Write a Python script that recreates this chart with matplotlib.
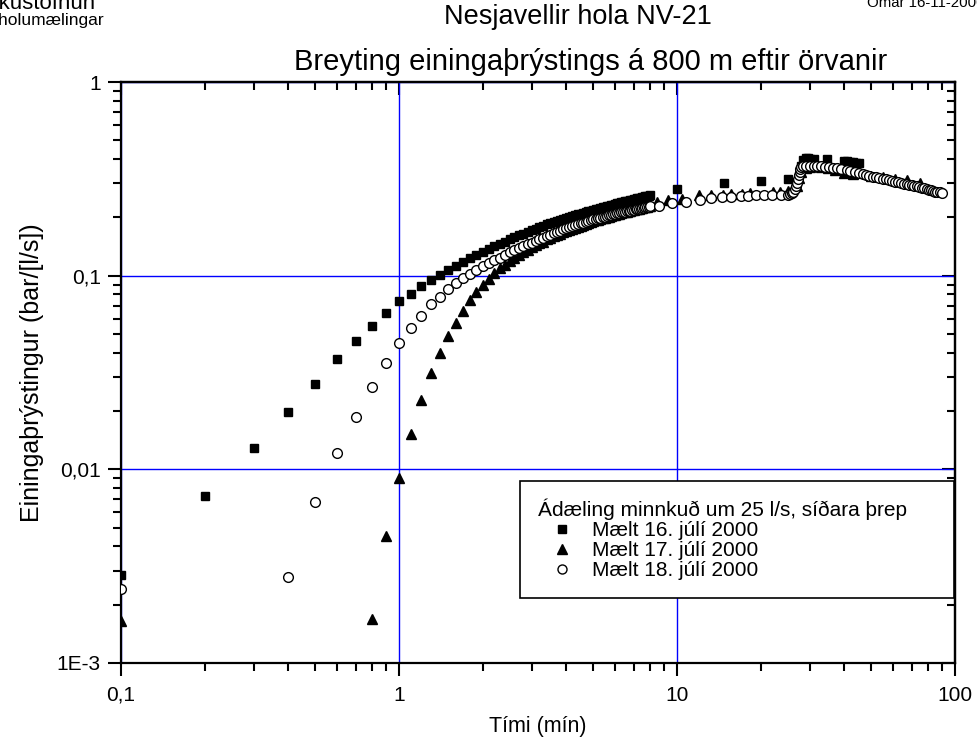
import matplotlib
matplotlib.use("Agg")
import matplotlib.pyplot as plt
from matplotlib.ticker import FixedLocator, LogLocator, NullFormatter, FixedFormatter
from matplotlib.lines import Line2D

plt.rcParams['font.family'] = ['Liberation Sans', 'DejaVu Sans']

# time grid of the fast readings (min)
t_fast = [0.1, 0.2, 0.3, 0.4, 0.5, 0.6, 0.7, 0.8, 0.9, 1.0,
          1.1, 1.2, 1.3, 1.4, 1.5, 1.6, 1.7, 1.8, 1.9, 2.0,
          2.1, 2.2, 2.3, 2.4, 2.5, 2.6, 2.7, 2.8, 2.9, 3.0,
          3.1, 3.2, 3.3, 3.4, 3.5, 3.6, 3.7, 3.8, 3.9, 4.0,
          4.1, 4.2, 4.3, 4.4, 4.5, 4.6, 4.7, 4.8, 4.9, 5.0,
          5.1, 5.2, 5.3, 5.4, 5.5, 5.6, 5.7, 5.8, 5.9, 6.0,
          6.1, 6.2, 6.3, 6.4, 6.5, 6.6, 6.7, 6.8, 6.9, 7.0,
          7.1, 7.2, 7.3, 7.4, 7.5, 7.6, 7.7, 7.8, 7.9, 8.0]

# Mælt 16. júlí 2000 (squares), 0.1 - 8.0 min
p16_fast = [.00285, .0073, .0129, .0198, .0276, .0372, .0459, .055, .064, .074,
            .0805, .0885, .095, .101, .107, .112, .118, .123, .128, .133,
            .138, .142, .146, .150, .154, .158, .162, .165, .169, .172,
            .175, .178, .181, .184, .187, .189, .192, .194, .197, .199,
            .201, .203, .205, .207, .209, .211, .213, .215, .217, .219,
            .221, .222, .224, .226, .227, .229, .230, .232, .233, .235,
            .236, .238, .239, .240, .242, .243, .244, .246, .247, .248,
            .249, .251, .252, .253, .254, .255, .257, .258, .259, .261]
t16_late = [10.0, 14.7, 20.0, 25.0, 27.6, 28.0, 28.5, 29.0, 29.5, 30.0,
            31.0, 34.5, 40.0, 41.0, 42.0, 43.0, 44.0, 45.0]
p16_late = [.280, .300, .310, .315, .340, .370, .395, .405, .405, .400,
            .400, .398, .390, .390, .388, .386, .384, .380]

# Mælt 17. júlí 2000 (triangles): 0.1 min, then 0.8 - 8.0 min
p17_first = .00164
p17_fast = [.00168, .00453, .009, .0152, .0228, .0313, .0397, .049, .057, .066,
            .0745, .082, .089, .096, .103, .109, .114, .119, .124, .128,
            .132, .136, .140, .144, .147, .150, .154, .157, .160, .163,
            .165, .168, .170, .173, .175, .177, .179, .181, .183, .185,
            .187, .189, .191, .193, .194, .196, .198, .199, .201, .202,
            .204, .205, .206, .208, .209, .210, .212, .213, .214, .215,
            .216, .218, .219, .220, .221, .222, .223, .224, .225, .226,
            .227, .228, .229]
t17_late = [8.5, 9.3, 10.4, 12.0, 13.3, 14.6, 15.7, 17.1, 18.3, 22.2,
            23.5, 25.0, 27.0, 27.5, 28.0, 29.0, 30.0, 33.0, 35.0, 37.0,
            40.0, 43.0, 50.0, 55.0, 61.0, 67.0, 75.0]
p17_late = [.240, .245, .250, .260, .260, .262, .263, .265, .266, .270,
            .272, .275, .290, .320, .345, .360, .365, .362, .358, .350,
            .340, .335, .328, .322, .315, .312, .300]

# Mælt 18. júlí 2000 (open circles): 0.1 min, then 0.4 - 8.0 min
p18_first = .0024
p18_fast = [.00279, .0068, .0121, .0186, .0266, .0356, .0448, .0535, .0621, .0714,
            .078, .085, .0914, .0977, .102, .107, .112, .116, .120, .124,
            .128, .132, .136, .139, .142, .145, .148, .151, .154, .157,
            .160, .163, .166, .169, .171, .174, .176, .178, .180, .182,
            .184, .186, .188, .190, .192, .193, .195, .196, .198, .199,
            .201, .202, .203, .205, .206, .207, .208, .210, .211, .212,
            .213, .214, .215, .216, .217, .218, .219, .220, .220, .221,
            .222, .223, .224, .225, .226, .227, .228]
t18_late = [8.6, 9.6, 10.8, 12.1, 13.3, 14.5, 15.7, 17.0, 18.0, 19.2,
            20.5, 21.9, 23.7, 25.0, 25.5, 26.0, 26.2, 26.5, 26.8, 27.0,
            27.2, 27.4, 27.6, 27.8, 28.0, 28.5, 29.0, 30.0, 31.0, 32.0,
            33.0, 34.0, 35.3, 36.5, 37.7, 39.0, 40.8, 42.0, 43.5, 45.0,
            46.5, 47.8, 49.0, 50.5, 52.0, 53.5, 55.0, 56.5, 58.0, 59.5,
            61.0, 62.5, 64.0, 65.5, 67.0, 68.5, 70.0, 71.5, 73.0, 74.5,
            76.0, 77.5, 79.0, 80.5, 82.0, 83.5, 85.0, 86.5, 88.0, 89.5]
p18_late = [.230, .236, .240, .246, .251, .255, .255, .257, .259, .260,
            .260, .262, .262, .262, .265, .268, .271, .280, .290, .300,
            .315, .330, .345, .355, .362, .368, .370, .370, .370, .368,
            .370, .366, .365, .360, .358, .355, .352, .348, .345, .340,
            .335, .331, .328, .325, .322, .320, .317, .314, .311, .309,
            .306, .303, .301, .299, .297, .295, .293, .291, .289, .287,
            .284, .282, .280, .278, .276, .274, .272, .270, .269, .268]

x_ticks = [0.1, 1, 10, 100]
x_ticklabels = ['0,1', '1', '10', '100']
y_ticks = [0.001, 0.01, 0.1, 1]
y_ticklabels = ['1E-3', '0,01', '0,1', '1']
labels = ['Mælt 16. júlí 2000', 'Mælt 17. júlí 2000', 'Mælt 18. júlí 2000']

t16 = t_fast + t16_late
p16 = p16_fast + p16_late
t17 = [t_fast[0]] + t_fast[7:] + t17_late
p17 = [p17_first] + p17_fast + p17_late
t18 = [t_fast[0]] + t_fast[3:] + t18_late
p18 = [p18_first] + p18_fast + p18_late

W, H = 977, 745
fig = plt.figure(figsize=(W / 100, H / 100), dpi=100)
ax = fig.add_axes([121 / W, 1 - 663 / H, (955 - 121) / W, (663 - 82) / H])

ax.plot(t16, p16, ls='none', marker='s', ms=6.3, color='black', zorder=3)
ax.plot(t17, p17, ls='none', marker='^', ms=7.5, color='black', zorder=4)
ax.plot(t18, p18, ls='none', marker='o', ms=7, mfc='white', mec='black', mew=1, zorder=5)

ax.set_xscale('log')
ax.set_yscale('log')
ax.set_xlim(0.1, 100)
ax.set_ylim(0.001, 1)

for axis, ticks, labs in [(ax.xaxis, x_ticks, x_ticklabels), (ax.yaxis, y_ticks, y_ticklabels)]:
    axis.set_major_locator(FixedLocator(ticks))
    axis.set_major_formatter(FixedFormatter(labs))
    axis.set_minor_locator(LogLocator(base=10, subs=range(2, 10)))
    axis.set_minor_formatter(NullFormatter())

ax.grid(True, which='major', color='#0000ff', lw=1)
ax.set_axisbelow(True)
for s in ax.spines.values():
    s.set_linewidth(1.6)
ax.tick_params(which='major', direction='out', length=9.5, width=1.5, labelsize=15, pad=5)
ax.tick_params(which='minor', direction='out', length=6, width=1.5)
ax.tick_params(axis='x', which='major', pad=7)

# inward ticks on top and right
top = ax.secondary_xaxis('top')
right = ax.secondary_yaxis('right')
for sec, ticks in [(top, x_ticks), (right, y_ticks)]:
    sec_axis = sec.xaxis if sec is top else sec.yaxis
    sec_axis.set_major_locator(FixedLocator(ticks))
    sec_axis.set_minor_locator(LogLocator(base=10, subs=range(2, 10)))
    sec_axis.set_minor_formatter(NullFormatter())
    sec.tick_params(which='major', direction='in', length=9.5, width=1.5,
                    labeltop=False, labelright=False)
    sec.tick_params(which='minor', direction='in', length=6, width=1.5)
    for s in sec.spines.values():
        s.set_linewidth(1.6)

ax.set_xlabel('Tími (mín)', fontsize=15.5, labelpad=8)
ax.set_ylabel('Einingaþrýstingur (bar/[l/s])', fontsize=18, labelpad=9)

fig.text(578 / W, 1 - 17 / H, 'Nesjavellir hola NV-21', fontsize=19.5, ha='center', va='center')
fig.text(591 / W, 1 - 62 / H, 'Breyting einingaþrýstings á 800 m eftir örvanir',
         fontsize=21, ha='center', va='center')
fig.text(-26 / W, 1 - 9 / H, 'Orkustofnun', fontsize=16, ha='left', va='baseline')
fig.text(-28 / W, 1 - 25 / H, 'Borholumælingar', fontsize=12.5, ha='left', va='baseline')
fig.text(867 / W, 1 - 7 / H, 'Ómar 16-11-2000', fontsize=10.8, ha='left', va='baseline')

handles = [
    Line2D([], [], ls='none', marker='s', ms=5.5, color='black'),
    Line2D([], [], ls='none', marker='^', ms=7, color='black'),
    Line2D([], [], ls='none', marker='o', ms=6.5, mfc='white', mec='black', mew=1),
]
leg = ax.legend(handles, labels, title='Ádæling minnkuð um 25 l/s, síðara þrep',
                loc='upper left', bbox_to_anchor=(0.4784, 0.0, 0.5204, 0.3133), mode='expand',
                fontsize=15, title_fontsize=15, alignment='left', frameon=True, fancybox=False,
                edgecolor='black', framealpha=1, handlelength=2.3, handletextpad=0.3,
                labelspacing=0.05, borderpad=0.85, borderaxespad=0)
leg.get_frame().set_linewidth(1.2)
leg.set_zorder(10)

fig.savefig('out.png', dpi=100)
